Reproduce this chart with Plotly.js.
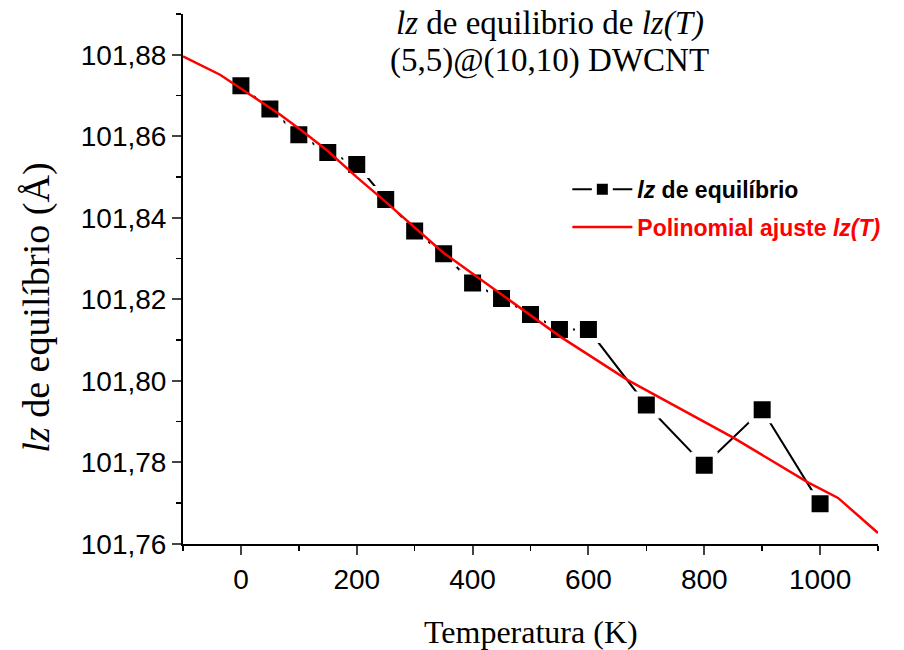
<!DOCTYPE html>
<html>
<head>
<meta charset="utf-8">
<script src="https://cdn.plot.ly/plotly-3.0.1.min.js"></script>
<style>html,body{margin:0;padding:0;background:#fff;}#chart{width:904px;height:650px;}</style>
</head>
<body>
<div id="chart"></div>
<script>
// Measured data: lz at equilibrium vs temperature
var temperature = [0, 50, 100, 150, 200, 250, 300, 350, 400, 450, 500, 550, 600, 700, 800, 900, 1000];
var lzEquilibrio = [101.8724, 101.8667, 101.8604, 101.8560, 101.8531, 101.8445, 101.8368, 101.8312, 101.8240, 101.8202, 101.8163, 101.8126, 101.8126, 101.7941, 101.7793, 101.7929, 101.7699];

// Polynomial fit curve
var fitT = [-100, -36, 16, 68, 107, 150, 200, 246, 350, 535, 552, 668, 850, 979, 1031, 1100];
var fitLz = [101.8796, 101.8751, 101.8702, 101.8653, 101.8612, 101.8564, 101.8500, 101.8444, 101.8314, 101.8125, 101.8108, 101.8002, 101.7861, 101.7751, 101.7713, 101.7627];

var yTickVals = [101.76, 101.78, 101.80, 101.82, 101.84, 101.86, 101.88];
var xTickVals = [0, 200, 400, 600, 800, 1000];

var serif = 'Times New Roman, Liberation Serif, serif';
var sans = 'Arial, Liberation Sans, sans-serif';

var traces = [
  {
    x: temperature, y: lzEquilibrio, type: 'scatter', mode: 'lines+markers',
    name: '<b><i>lz</i> de equilíbrio</b>', legendgroup: 'a',
    line: {color: '#000', width: 2},
    marker: {symbol: 'square', size: 22, color: '#000', line: {color: '#fff', width: 5}}
  },
  {
    x: fitT, y: fitLz, type: 'scatter', mode: 'lines',
    name: '<span style="color:#ff0000"><b>Polinomial ajuste <i>lz(T)</i></b></span>', legendgroup: 'b',
    line: {color: '#ff0000', width: 2.5}
  }
];

var layout = {
  width: 904, height: 650,
  margin: {l: 183, r: 26, t: 14, b: 106},
  paper_bgcolor: '#fff', plot_bgcolor: '#fff',
  separators: ',.',
  showlegend: true,
  legend: {x: 0.553, y: 0.71, xanchor: 'left', yanchor: 'top', itemwidth: 60,
           font: {family: sans, size: 23, color: '#000'},
           bgcolor: 'rgba(0,0,0,0)', borderwidth: 0, tracegroupgap: 5},
  xaxis: {
    range: [-100, 1100], tickvals: xTickVals, ticks: 'outside', ticklen: 9, tickwidth: 2,
    showline: true, linecolor: '#000', linewidth: 2, showgrid: false, zeroline: false,
    minor: {dtick: 100, tick0: 0, ticks: 'outside', ticklen: 5, tickwidth: 1.5, tickcolor: '#000', showgrid: false},
    tickfont: {family: sans, size: 28, color: '#000'}
  },
  yaxis: {
    range: [101.76, 101.89], tickvals: yTickVals, tickformat: '.2f', ticks: 'outside', ticklen: 9, tickwidth: 2,
    showline: true, linecolor: '#000', linewidth: 2, showgrid: false, zeroline: false,
    minor: {dtick: 0.01, tick0: 101.76, ticks: 'outside', ticklen: 5, tickwidth: 1.5, tickcolor: '#000', showgrid: false},
    tickfont: {family: sans, size: 28, color: '#000'}
  },
  annotations: [
    {text: '<i>lz</i> de equilibrio de <i>lz(T)</i>', xref: 'paper', yref: 'paper',
     x: 0.528, y: 0.983, xanchor: 'center', yanchor: 'middle', showarrow: false,
     font: {family: serif, size: 33, color: '#000'}},
    {text: '(5,5)@(10,10) DWCNT', xref: 'paper', yref: 'paper',
     x: 0.528, y: 0.912, xanchor: 'center', yanchor: 'middle', showarrow: false,
     font: {family: serif, size: 33, color: '#000'}},
    {text: 'Temperatura (K)', xref: 'paper', yref: 'paper',
     x: 0.5, y: -0.166, xanchor: 'center', yanchor: 'middle', showarrow: false,
     font: {family: serif, size: 32, color: '#000'}},
    {text: '<i>lz</i> de equilíbrio (Å)', xref: 'paper', yref: 'paper', textangle: -90,
     x: -0.21, y: 0.446, xanchor: 'center', yanchor: 'middle', showarrow: false,
     font: {family: serif, size: 38, color: '#000'}}
  ]
};

Plotly.newPlot('chart', traces, layout, {displayModeBar: false, staticPlot: true});
</script>
</body>
</html>
